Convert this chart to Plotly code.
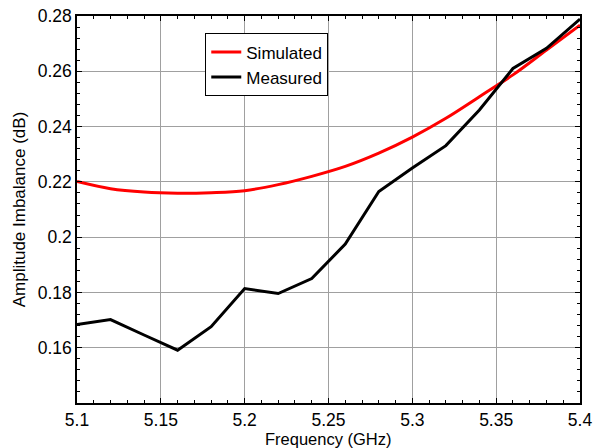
import plotly.graph_objects as go

freq_sim = [5.10, 5.12, 5.14, 5.16, 5.18, 5.20, 5.22, 5.24, 5.26, 5.28, 5.30, 5.32, 5.34, 5.36, 5.38, 5.40]
simulated = [0.2201, 0.2175, 0.2163, 0.2159, 0.2161, 0.2168, 0.2190, 0.2220, 0.2256, 0.2304, 0.2362, 0.2430, 0.2508, 0.2587, 0.2677, 0.2767]

freq_meas = [5.10, 5.12, 5.14, 5.16, 5.18, 5.20, 5.22, 5.24, 5.26, 5.28, 5.30, 5.32, 5.34, 5.36, 5.38, 5.40]
measured = [0.1684, 0.1702, 0.1646, 0.1591, 0.1676, 0.1814, 0.1796, 0.1850, 0.1975, 0.2165, 0.2250, 0.2331, 0.2460, 0.2610, 0.2683, 0.2789]

x_ticks = [5.1, 5.15, 5.2, 5.25, 5.3, 5.35, 5.4]
x_ticklabels = ["5.1", "5.15", "5.2", "5.25", "5.3", "5.35", "5.4"]
y_ticks = [0.16, 0.18, 0.2, 0.22, 0.24, 0.26, 0.28]
y_ticklabels = ["0.16", "0.18", "0.2", "0.22", "0.24", "0.26", "0.28"]

FONT = "Liberation Sans, Arial, sans-serif"

fig = go.Figure()
fig.add_trace(go.Scatter(x=freq_sim, y=simulated, mode="lines", name="Simulated",
                         line=dict(color="#ff0000", width=3, shape="spline")))
fig.add_trace(go.Scatter(x=freq_meas, y=measured, mode="lines", name="Measured",
                         line=dict(color="#000000", width=3)))

axis_common = dict(
    showline=True, linecolor="black", linewidth=1.5, mirror="allticks",
    ticks="inside", ticklen=5, tickcolor="black", tickwidth=1,
    showgrid=True, gridcolor="#a0a0a0", gridwidth=1,
    zeroline=False,
    tickfont=dict(family=FONT, size=17.5, color="black"),
)

fig.update_xaxes(
    range=[5.1, 5.4], tickvals=x_ticks, ticktext=x_ticklabels,
    minor=dict(dtick=0.01, ticks="inside", ticklen=3, tickcolor="black", showgrid=False),
    **axis_common,
)
fig.update_yaxes(
    range=[0.14, 0.28], tickvals=y_ticks, ticktext=y_ticklabels,
    minor=dict(dtick=0.004, tick0=0.14, ticks="inside", ticklen=3, tickcolor="black", showgrid=False),
    title=dict(text="Amplitude Imbalance (dB)", font=dict(family=FONT, size=17, color="black"), standoff=8),
    **axis_common,
)

fig.add_annotation(
    text="Frequency (GHz)", xref="paper", yref="paper", x=0.5, y=0,
    xanchor="center", yanchor="top", yshift=-25, showarrow=False,
    font=dict(family=FONT, size=16.5, color="black"),
)

fig.update_layout(
    width=599, height=448,
    margin=dict(l=77, r=19, t=16, b=45, autoexpand=False),
    paper_bgcolor="white", plot_bgcolor="white",
    showlegend=True,
    legend=dict(x=0.255, y=0.955, xanchor="left", yanchor="top",
                bgcolor="white", bordercolor="black", borderwidth=1,
                font=dict(family=FONT, size=17, color="black"),
                tracegroupgap=0),
)

fig.write_html("out.html")
